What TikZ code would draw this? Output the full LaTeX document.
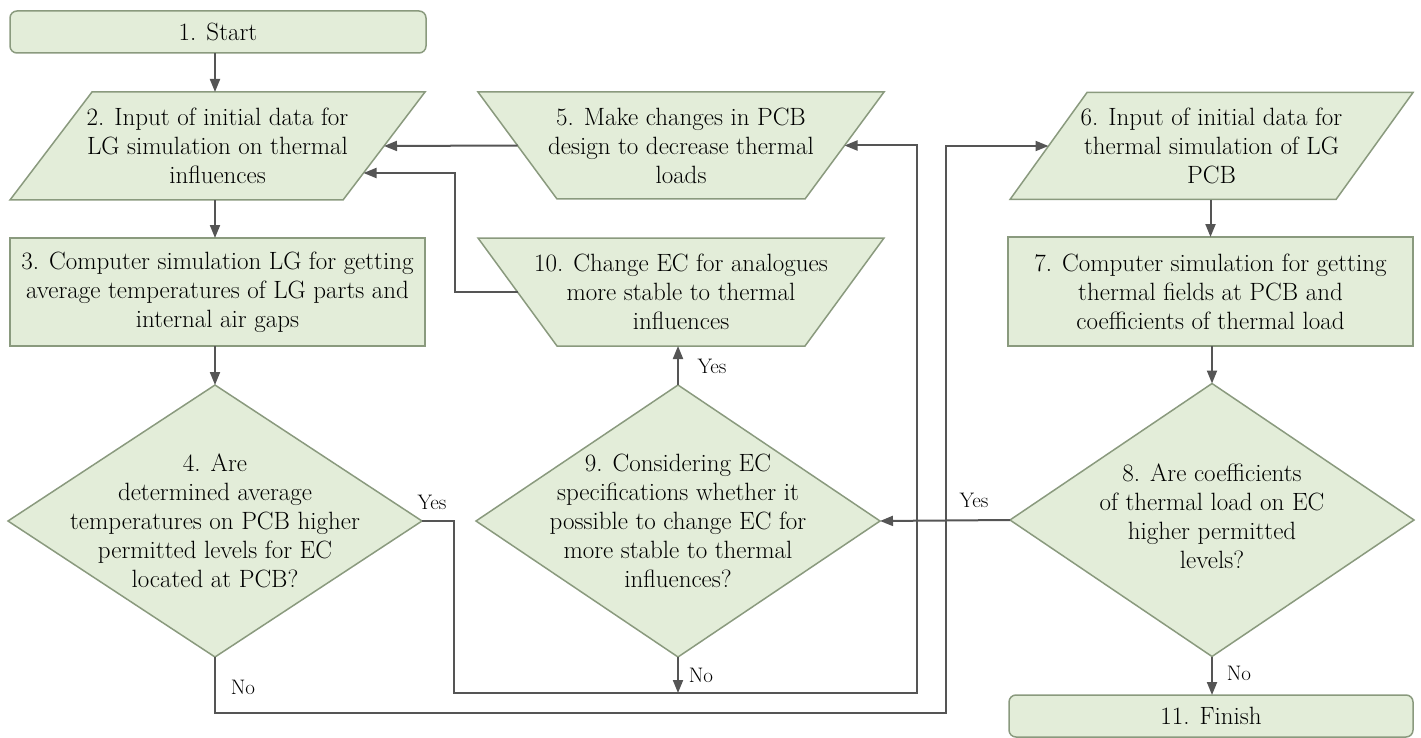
\documentclass[tikz,border=0pt]{standalone}
\usetikzlibrary{shapes.geometric,arrows.meta,calc}
\definecolor{boxfill}{HTML}{E3EDD9}
\definecolor{boxline}{HTML}{8A9A7E}
\definecolor{arrowc}{HTML}{555555}
\begin{document}
\begin{tikzpicture}[x=1pt,y=-1pt,
 base/.style={draw=boxline, fill=boxfill, line width=1.5pt, outer sep=0pt, inner sep=1pt, align=center, font=\fontsize{25}{29}\selectfont},
 term/.style={base, rectangle, rounded corners=7pt},
 proc/.style={base, rectangle},
 io/.style={base, trapezium, minimum width=0pt, minimum height=0pt},
 dec/.style={base, diamond},
 dtext/.style={align=center, font=\fontsize{25}{29}\selectfont, inner sep=0pt},
 arr/.style={draw=arrowc, line width=2pt, -{Triangle[length=13pt,width=10pt]}},
 lab/.style={font=\fontsize{21}{24}\selectfont, inner sep=0pt}
]
\useasboundingbox (0,0) rectangle (1421,738);

% nodes
\node[term, minimum width=416pt, minimum height=42pt] (n1) at (218,32) {1. Start};
\node[io, trapezium left angle=52.79, trapezium right angle=127.21, inner xsep=125.5pt, inner ysep=54pt,
  label={[dtext]center:{2. Input of initial data for\\LG simulation on thermal\\influences}}] (n2) at (217.5,146) {};
\node[proc, minimum width=415pt, minimum height=108pt] (n3) at (217.5,292) {3. Computer simulation LG for getting\\average temperatures of LG parts and\\internal air gaps};
\node[dec, minimum width=414pt, minimum height=272pt, label={[dtext]center:{4. Are\\determined average\\temperatures on PCB higher\\permitted levels for EC\\located at PCB?}}] (n4) at (215,521) {};
\node[io, trapezium left angle=126.44, trapezium right angle=126.44, inner xsep=124pt, inner ysep=53.5pt,
  label={[dtext]center:{5. Make changes in PCB\\design to decrease thermal\\loads}}] (n5) at (681,145.5) {};
\node[io, trapezium left angle=126.19, trapezium right angle=126.19, inner xsep=124pt, inner ysep=54pt,
  label={[dtext]center:{10. Change EC for analogues\\more stable to thermal\\influences}}] (n10) at (681,292) {};
\node[dec, minimum width=404pt, minimum height=272pt, label={[dtext]center:{9. Considering EC\\specifications whether it\\possible to change EC for\\more stable to thermal\\influences?}}] (n9) at (678,521) {};
\node[io, trapezium left angle=54.26, trapezium right angle=125.74, inner xsep=124.5pt, inner ysep=53.5pt,
  label={[dtext]center:{6. Input of initial data for\\thermal simulation of LG\\PCB}}] (n6) at (1211.5,146) {};
\node[proc, minimum width=405pt, minimum height=109pt] (n7) at (1210.5,291.5) {7. Computer simulation for getting\\thermal fields at PCB and\\coefficients of thermal load};
\node[dec, minimum width=404pt, minimum height=273pt, label={[dtext, yshift=4pt]center:{8. Are coefficients\\of thermal load on EC\\higher permitted\\levels?}}] (n8) at (1212,520) {};
\node[term, minimum width=404pt, minimum height=42pt] (n11) at (1211,716) {11. Finish};

% helper coordinates
\coordinate (loopA) at (917,693);
\coordinate (loopB) at (946,713);
\coordinate (j10) at (455,0);
\coordinate (in2) at ($(n2.top right corner)!0.75!(n2.bottom right corner)$);

% connectors
\draw[arr] (n1.south -| n4.north) -- (n2.north -| n4.north);
\draw[arr] (n2.south -| n4.north) -- (n3.north -| n4.north);
\draw[arr] (n3.south -| n4.north) -- (n4.north);
\draw[arr] (n4.east) -| (454,693) -- (loopA) |- (n5.right side);
\draw[arr] (n4.south) |- (loopB) |- (n6.left side);
\draw[arr] (n5.left side) -- (n2.right side);
\draw[arr] (n10.left side) -| (in2 -| j10) -- (in2);
\draw[arr] (n9.north) -- (n9.north |- n10.south);
\draw[arr] (n9.south) -- (n9.south |- loopA);
\draw[arr] (n8.west) -- (n9.east);
\draw[arr] (n6.south -| n7.north) -- (n7.north);
\draw[arr] (n7.south -| n8.north) -- (n8.north);
\draw[arr] (n8.south) -- (n8.south |- n11.north);

% labels
\node[lab] (l4y) at (432,502) {Yes};
\node[lab] (l4n) at (243,687) {No};
\node[lab] (l9y) at (712,366) {Yes};
\node[lab] (l9n) at (701,675) {No};
\node[lab] (l8y) at (974,500) {Yes};
\node[lab] (l8n) at (1239,673) {No};
\end{tikzpicture}
\end{document}
